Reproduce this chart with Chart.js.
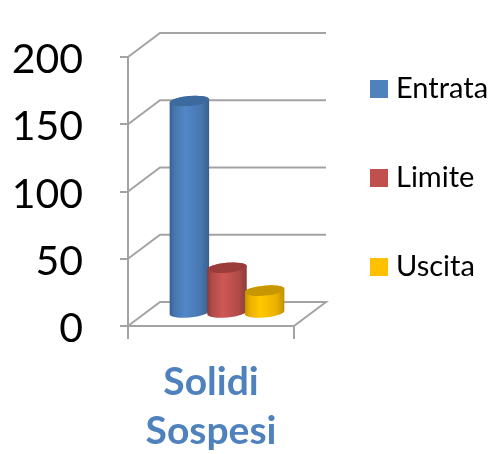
<!DOCTYPE html>
<html>
<head>
<meta charset="utf-8">
<style>html,body{margin:0;padding:0;background:#fff}canvas{display:block}</style>
<script src="https://cdn.jsdelivr.net/npm/chart.js@4"></script>
</head>
<body>
<canvas id="c" width="492" height="454"></canvas>
<script>
const categories = [["Solidi", "Sospesi"]];
const seriesNames = ["Entrata", "Limite", "Uscita"];
const entrata = [158];
const limite = [34];
const uscita = [17];
const yTicks = [0, 50, 100, 150, 200];
const colors = ["#4F81BD", "#C0504D", "#FFC000"];
const shades = [
  {edge:"#38608F", soft:"#4676AE", mid:"#5288C8", top:"#3D6A9E"},
  {edge:"#8C3A38", soft:"#B04B48", mid:"#CF5855", top:"#9C3C3A"},
  {edge:"#BF9000", soft:"#EBB000", mid:"#FFC800", top:"#C89600"}
];
const GRID = "#A3A3A3", DX = 32, DY = 24;
const FONT = "Lato, 'Open Sans', sans-serif";

const wall = {
  id: "wall",
  beforeLayout(chart) {
    const l = chart.legend;
    if (l && !l._patched) {
      const f = l.fit;
      l.fit = function () { f.call(this); this.width = 198; };
      l._patched = true;
    }
  },
  afterLayout(chart) {
    const l = chart.legend;
    l.left = 316.5; l.right = 492;
    l.top = 14.5;
    chart.scales.y.getLabelItems().forEach(it => { it.options.translation[1] += 3; });
  },
  beforeDatasetsDraw(chart) {
    const {ctx, scales: {x, y}} = chart;
    const left = x.left, right = x.right;
    ctx.save();
    ctx.strokeStyle = GRID; ctx.lineWidth = 2;
    yTicks.forEach(v => {
      const py = y.getPixelForValue(v);
      ctx.beginPath();
      ctx.moveTo(left, py);
      ctx.lineTo(left + DX, py - DY);
      ctx.lineTo(right + DX, py - DY);
      if (v === 0) ctx.lineTo(right, py);
      ctx.stroke();
    });
    ctx.restore();
  },
  beforeDatasetDraw() { return false; },
  afterDatasetsDraw(chart) {
    const {ctx} = chart;
    chart.data.datasets.forEach((ds, i) => {
      chart.getDatasetMeta(i).data.forEach(bar => {
        const s = shades[i];
        const cx = bar.x + DX / 2, rx = bar.width / 2 + 1, ry = 5;
        const yt = bar.y - DY / 2 - 0.5, yb = bar.base - DY / 2 - 0.5;
        const rot = -0.09;
        const g = ctx.createLinearGradient(cx - rx, 0, cx + rx, 0);
        g.addColorStop(0, s.edge);
        g.addColorStop(0.12, s.soft);
        g.addColorStop(0.4, s.mid);
        g.addColorStop(0.8, s.soft);
        g.addColorStop(1, s.edge);
        ctx.save();
        ctx.fillStyle = g;
        ctx.beginPath();
        ctx.ellipse(cx, yb, rx, ry, rot, 0, Math.PI);
        ctx.ellipse(cx, yt, rx, ry, rot, Math.PI, 2 * Math.PI);
        ctx.closePath();
        ctx.fill();
        ctx.fillStyle = s.top;
        ctx.beginPath();
        ctx.ellipse(cx, yt, rx, ry, rot, 0, 2 * Math.PI);
        ctx.fill();
        ctx.restore();
      });
    });
  }
};

new Chart(document.getElementById("c"), {
  type: "bar",
  data: {
    labels: categories,
    datasets: [
      {label: seriesNames[0], data: entrata, backgroundColor: colors[0], borderColor: colors[0], borderWidth: 13},
      {label: seriesNames[1], data: limite, backgroundColor: colors[1], borderColor: colors[1], borderWidth: 13},
      {label: seriesNames[2], data: uscita, backgroundColor: colors[2], borderColor: colors[2], borderWidth: 13}
    ]
  },
  options: {
    responsive: false,
    animation: false,
    layout: {padding: {top: 57, left: 0, right: 0, bottom: 0}},
    datasets: {bar: {barPercentage: 1, categoryPercentage: 0.68}},
    plugins: {
      title: {display: false},
      tooltip: {enabled: false},
      legend: {
        display: true,
        position: "right",
        align: "start",
        labels: {
          boxWidth: 5, boxHeight: 5, padding: 60,
          color: "#000",
          font: {family: FONT, size: 29}
        }
      }
    },
    scales: {
      y: {
        min: 0, max: 200,
        afterFit(s) { s.width = 128; s.paddingTop = 0; s.paddingBottom = 0; },
        afterBuildTicks(s) { s.ticks = yTicks.map(v => ({value: v})); },
        grid: {drawOnChartArea: false, color: GRID, lineWidth: 2, tickLength: 8},
        border: {color: GRID, width: 2},
        ticks: {color: "#000", padding: 37, font: {family: FONT, size: 41}}
      },
      x: {
        afterFit(s) { s.height = 128; },
        grid: {drawOnChartArea: false, color: GRID, lineWidth: 2, tickLength: 13},
        border: {color: GRID, width: 2},
        ticks: {color: "#4F81BD", padding: 18, maxRotation: 0, autoSkip: false,
                font: {family: FONT, size: 39, weight: "bold", lineHeight: 1.28}}
      }
    }
  },
  plugins: [wall]
});
</script>
</body>
</html>
